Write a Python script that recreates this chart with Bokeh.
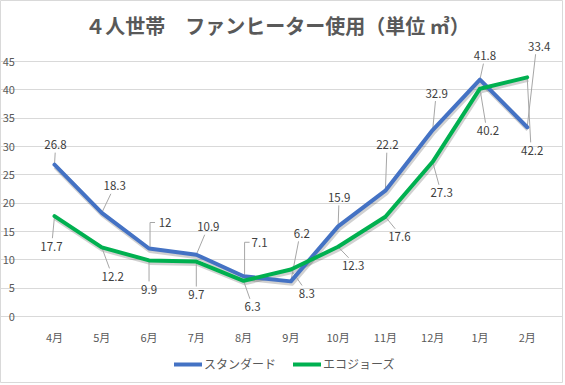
from bokeh.plotting import figure
from bokeh.models import FixedTicker, Legend, LegendItem, Label, ColumnDataSource, Range1d
from bokeh.core.properties import value
from bokeh.embed import file_html
from bokeh.resources import INLINE

# ---- data ----
months = ["4月", "5月", "6月", "7月", "8月", "9月", "10月", "11月", "12月", "1月", "2月"]
standard = [26.8, 18.3, 12, 10.9, 7.1, 6.2, 15.9, 22.2, 32.9, 41.8, 33.4]
ecojoes = [17.7, 12.2, 9.9, 9.7, 6.3, 8.3, 12.3, 17.6, 27.3, 40.2, 42.2]
y_ticks = [0, 5, 10, 15, 20, 25, 30, 35, 40, 45]
series_names = ["スタンダード", "エコジョーズ"]
title_text = "４人世帯　ファンヒーター使用（単位 ㎥）"

# ---- layout (pixel offsets of data labels: dx, dy(down), elbow leader) ----
std_label_off = [(1, -20, 0), (13, -27, 0), (16, -26, 1), (12, -28, 0), (16, -34, 1), (11, -48, 0),
                 (1, -29, 0), (2, -46, 0), (4, -37, 0), (5, -24, 0), (12, -81, 0)]
eco_label_off = [(-3, 30, 0), (11, 29, 0), (0, 29, 0), (0, 33, 0), (9, 26, 0), (16, 24, 0),
                 (15, 19, 0), (14, 20, 0), (9, 31, 0), (8, 42, 0), (5, 73, 0)]

FONT = "Noto Sans CJK JP"
BLUE = "#4472C4"
GREEN = "#00B050"
W, H = 563, 383                 # frame == whole figure
CAT_PX = 47.27                  # px per category
GRID_PX = 255.0                 # px from 0 to 45
FIRST_CAT_PX = 54.0             # px from left edge to first category
ZERO_FROM_BOTTOM = 67.0         # px from bottom edge to the 0 line
YPX = (y_ticks[-1] - y_ticks[0]) / GRID_PX
XPX = 1.0 / CAT_PX
X0 = -FIRST_CAT_PX * XPX
X1 = X0 + W * XPX
Y0 = -ZERO_FROM_BOTTOM * YPX
Y1 = Y0 + H * YPX

p = figure(width=W, height=H,
           x_range=Range1d(X0, X1), y_range=Range1d(Y0, Y1),
           output_backend="svg", toolbar_location=None,
           min_border_left=0, min_border_right=0, min_border_top=0, min_border_bottom=0,
           background_fill_color="white", border_fill_color="white")
p.outline_line_color = "#d9d9d9"
p.outline_line_width = 1

# axes
xs = list(range(len(months)))
p.xaxis.ticker = FixedTicker(ticks=xs)
p.xaxis.major_label_overrides = {i: m for i, m in enumerate(months)}
p.xaxis.fixed_location = 0
p.yaxis.ticker = FixedTicker(ticks=y_ticks)
p.yaxis.fixed_location = -0.5
for ax in (p.xaxis, p.yaxis):
    ax.axis_line_color = None
    ax.major_tick_line_color = None
    ax.minor_tick_line_color = None
    ax.major_label_text_color = "#595959"
    ax.major_label_text_font = FONT
    ax.major_label_text_font_size = "11px"
p.xaxis.major_label_standoff = 6
p.yaxis.major_label_standoff = 10
p.xgrid.grid_line_color = None
p.ygrid.ticker = FixedTicker(ticks=y_ticks)
p.ygrid.grid_line_color = "#d9d9d9"
p.ygrid.grid_line_width = 1
p.ygrid.bounds = (-0.5, len(months) - 0.5)

# shadows
for vals in (standard, ecojoes):
    p.line([x + 1.0 * XPX for x in xs], [v - 2.0 * YPX for v in vals],
           line_color="#000000", line_alpha=0.18, line_width=5, line_join="round")

# leader lines
lx, ly = [], []
for vals, offs in ((standard, std_label_off), (ecojoes, eco_label_off)):
    for x, v, (dx, dy, elbow) in zip(xs, vals, offs):
        if elbow:
            lx.append([x + 1 * XPX, x + 1 * XPX, x + (dx - 10) * XPX])
            ly.append([v, v - dy * YPX, v - dy * YPX])
        else:
            ey = dy + 8 if dy < 0 else dy - 8
            lx.append([x, x + dx * 0.7 * XPX])
            ly.append([v, v - ey * YPX])
p.multi_line(lx, ly, line_color="#a6a6a6", line_width=1)

# series lines
r_std = p.line(xs, standard, line_color=BLUE, line_width=4, line_join="round", line_cap="round")
r_eco = p.line(xs, ecojoes, line_color=GREEN, line_width=4, line_join="round", line_cap="round")

# data labels
for vals, offs in ((standard, std_label_off), (ecojoes, eco_label_off)):
    src = ColumnDataSource(dict(x=xs, y=vals, t=[f"{v:g}" for v in vals],
                                dx=[o[0] for o in offs], dy=[o[1] for o in offs]))
    p.text(x="x", y="y", text="t", x_offset="dx", y_offset="dy", source=src,
           text_align="center", text_baseline="middle", text_font=value(FONT),
           text_font_size="11.5px", text_color="#404040")

# title (screen units from frame bottom-left)
p.add_layout(Label(x=277, y=358, x_units="screen", y_units="screen", text=title_text,
                   text_align="center", text_baseline="middle", text_font=FONT,
                   text_font_size="20px", text_font_style="bold", text_color="#595959"))

# legend
legend = Legend(items=[LegendItem(label=series_names[0], renderers=[r_std]),
                       LegendItem(label=series_names[1], renderers=[r_eco])],
                orientation="horizontal", location=(174, 11),
                glyph_width=28, glyph_height=16, label_height=16, label_standoff=2,
                spacing=17, padding=0, margin=0,
                label_text_font=FONT, label_text_font_size="12px", label_text_color="#595959",
                background_fill_alpha=0, border_line_color=None)
p.add_layout(legend, "center")

open("out.html", "w").write(file_html(p, INLINE))
